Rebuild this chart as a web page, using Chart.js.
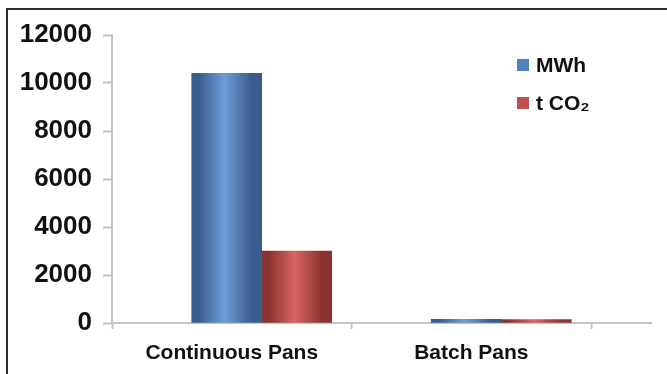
<!DOCTYPE html>
<html>
<head>
<meta charset="utf-8">
<title>Energy use and emissions: continuous vs batch pans</title>
<script src="https://cdn.jsdelivr.net/npm/chart.js@4/dist/chart.umd.min.js"></script>
<style>
  html, body { margin: 0; padding: 0; background: #fff; overflow: hidden; }
  #wrap { position: relative; width: 667px; height: 374px; }
  #frame { position: absolute; left: 6px; top: 8px; width: 720px; height: 420px;
           border: 2px solid #2a2a2a; box-sizing: border-box; }
  #c { position: absolute; left: 0; top: 0; }
</style>
</head>
<body>
<div id="wrap">
  <div id="frame"></div>
  <canvas id="c" width="667" height="374"></canvas>
</div>
<script>
// ---- data ----
const categories = ['Continuous Pans', 'Batch Pans'];
const seriesNames = ['MWh', 't CO\u2082'];
const mwh = [10400, 150];
const tco2 = [3000, 140];
const yTicks = [0, 2000, 4000, 6000, 8000, 10000, 12000];

// ---- styling ----
const FONT = '"Liberation Sans", Arial, Helvetica, sans-serif';
const AXIS_GRAY = '#c4c4c4';
const BAR_W = 70;            // px width of each bar
const AXIS_SHIFT = -0.125;   // category boundaries on the axis sit a bit left of the bar groups
const palette = [
  { dark: '#385c8b', light: '#6c9dd8', mid: '#4f81bd' },
  { dark: '#893432', light: '#da6461', mid: '#c0504d' }
];

function barGradient(ctx) {
  const chart = ctx.chart;
  const pal = palette[ctx.datasetIndex];
  const xs = chart.scales && chart.scales.x;
  if (!chart.chartArea || !xs || !ctx.raw) return pal.mid;
  const c = xs.getPixelForValue(ctx.raw.x);
  const x0 = ctx.datasetIndex === 0 ? c - BAR_W : c;
  const g = chart.ctx.createLinearGradient(x0, 0, x0 + BAR_W, 0);
  g.addColorStop(0, pal.dark);
  g.addColorStop(0.1, pal.dark);
  g.addColorStop(0.47, pal.light);
  g.addColorStop(0.86, pal.dark);
  g.addColorStop(1, pal.dark);
  return g;
}

const toPoints = vals => vals.map((v, i) => ({ x: i + 0.5, y: v }));

// legend drawn inside the plot, top right
const innerLegend = {
  id: 'innerLegend',
  afterDraw(chart) {
    const c = chart.ctx;
    const rows = [65, 103];
    c.save();
    c.font = 'bold 21px ' + FONT;
    c.textBaseline = 'middle';
    c.textAlign = 'left';
    chart.data.datasets.forEach((ds, i) => {
      const y = rows[i];
      c.fillStyle = palette[i].mid;
      c.fillRect(517, y - 6, 12, 12);
      c.fillStyle = '#111';
      c.fillText(ds.label, 536, y + 1);
    });
    c.restore();
  }
};

new Chart(document.getElementById('c'), {
  type: 'bar',
  data: {
    datasets: [
      { label: seriesNames[0], data: toPoints(mwh), backgroundColor: barGradient, borderWidth: 0 },
      { label: seriesNames[1], data: toPoints(tco2), backgroundColor: barGradient, borderWidth: 0 }
    ]
  },
  options: {
    responsive: false,
    animation: false,
    events: [],
    barThickness: BAR_W,
    layout: { padding: { left: 0, right: 16, top: 35, bottom: 0 } },
    plugins: { legend: { display: false }, tooltip: { enabled: false } },
    scales: {
      x: {
        type: 'linear',
        bounds: 'data',
        offset: false,
        min: AXIS_SHIFT,
        max: categories.length + AXIS_SHIFT + 0.25,
        afterBuildTicks(scale) {
          const t = [];
          categories.forEach((_, i) => {
            t.push({ value: AXIS_SHIFT + i });
            t.push({ value: AXIS_SHIFT + i + 0.5 });
          });
          t.push({ value: AXIS_SHIFT + categories.length });
          scale.ticks = t;
        },
        afterFit(scale) { scale.height = 51; },
        border: { color: AXIS_GRAY, width: 2 },
        grid: {
          offset: false,
          drawOnChartArea: false,
          tickLength: 6,
          tickWidth: 2,
          tickColor: ctx => (ctx.index % 2 ? 'rgba(0,0,0,0)' : AXIS_GRAY)
        },
        ticks: {
          autoSkip: false,
          maxRotation: 0,
          padding: 12,
          color: '#111',
          font: { family: FONT, size: 21, weight: 'bold' },
          callback: (v, i) => (i % 2 ? categories[(i - 1) / 2] : '')
        }
      },
      y: {
        min: yTicks[0],
        max: yTicks[yTicks.length - 1],
        afterBuildTicks(scale) { scale.ticks = yTicks.map(v => ({ value: v })); },
        afterFit(scale) { scale.width = 112; },
        border: { color: AXIS_GRAY, width: 2 },
        grid: { drawOnChartArea: false, tickLength: 9, tickWidth: 2, tickColor: AXIS_GRAY },
        ticks: {
          padding: 11,
          color: '#111',
          font: { family: FONT, size: 26, weight: 'bold' },
          callback: v => String(v)
        }
      }
    }
  },
  plugins: [innerLegend]
});
</script>
</body>
</html>
